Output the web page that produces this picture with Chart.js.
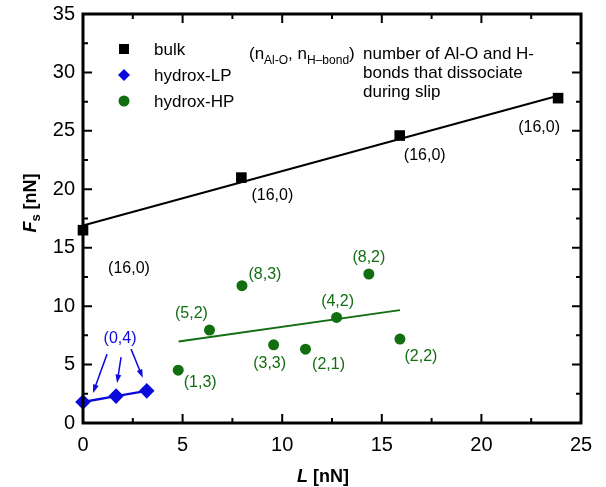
<!DOCTYPE html>
<html>
<head>
<meta charset="utf-8">
<script src="https://cdn.jsdelivr.net/npm/chart.js@4.4.0/dist/chart.umd.min.js"></script>
<style>
  html,body{margin:0;padding:0;background:#fff;}
  #wrap{width:606px;height:487px;}
</style>
</head>
<body>
<div id="wrap"><canvas id="chart" width="606" height="487"></canvas></div>
<script>
// data: L [nN] vs Fs [nN]
const bulkL = [0, 7.95, 15.9, 23.85];
const bulkF = [16.5, 21.0, 24.6, 27.8];
const bulkLabels = ['(16,0)', '(16,0)', '(16,0)', '(16,0)'];
const bulkFitL = [0, 23.85];
const bulkFitF = [16.9, 28.0];

const lpL = [0, 1.66, 3.2];
const lpF = [1.8, 2.3, 2.75];

const hpL = [4.78, 6.35, 7.98, 9.57, 11.17, 12.73, 14.35, 15.91];
const hpF = [4.52, 7.95, 11.75, 6.69, 6.32, 9.03, 12.75, 7.18];
const hpLabels = ['(1,3)', '(5,2)', '(8,3)', '(3,3)', '(2,1)', '(4,2)', '(8,2)', '(2,2)'];
const hpFitL = [4.8, 15.91];
const hpFitF = [6.97, 9.66];

const xTicks = [0, 5, 10, 15, 20, 25];
const yTicks = [0, 5, 10, 15, 20, 25, 30, 35];

// label placement (pixel offsets from the point), kept apart from the data
const bulkLabelOff = [[46,38],[31,18],[25,20],[-19,29]];
const hpLabelOff = [[22,12],[-18,-17],[23,-11],[-4,19],[23,15],[1,-16],[0,-16],[21,17]];

const BLUE = '#0a0adc';
const GREEN = '#116e11';
const FONT = "'Liberation Sans', Arial, Helvetica, sans-serif";

function pts(xs, ys){ return xs.map((x,i)=>({x, y: ys[i]})); }

const decorations = {
  id: 'decorations',
  afterDraw(chart){
    const {ctx, chartArea: a, scales: {x, y}} = chart;
    ctx.save();
    // frame
    ctx.strokeStyle = '#000';
    ctx.lineWidth = 3;
    ctx.strokeRect(a.left, a.top, a.right - a.left, a.bottom - a.top);
    // inward ticks, major every 5, minor every 2.5
    ctx.lineWidth = 2;
    ctx.beginPath();
    for(let v = 0; v <= 35; v += 2.5){
      const py = y.getPixelForValue(v);
      const len = v % 5 === 0 ? 9 : 5;
      ctx.moveTo(a.left, py); ctx.lineTo(a.left + len, py);
      ctx.moveTo(a.right, py); ctx.lineTo(a.right - len, py);
    }
    for(let v = 0; v <= 25; v += 2.5){
      const px = x.getPixelForValue(v);
      const len = v % 5 === 0 ? 9 : 5;
      ctx.moveTo(px, a.bottom); ctx.lineTo(px, a.bottom - len);
      ctx.moveTo(px, a.top); ctx.lineTo(px, a.top + len);
    }
    ctx.stroke();

    // point labels
    ctx.font = '16px ' + FONT;
    ctx.textAlign = 'center';
    ctx.textBaseline = 'middle';
    ctx.fillStyle = '#000';
    bulkL.forEach((l,i)=>{
      ctx.fillText(bulkLabels[i], x.getPixelForValue(l) + bulkLabelOff[i][0], y.getPixelForValue(bulkF[i]) + bulkLabelOff[i][1]);
    });
    ctx.fillStyle = GREEN;
    hpL.forEach((l,i)=>{
      ctx.fillText(hpLabels[i], x.getPixelForValue(l) + hpLabelOff[i][0], y.getPixelForValue(hpF[i]) + hpLabelOff[i][1]);
    });

    // (0,4) label with arrows to the LP points
    const lx = x.getPixelForValue(lpL[1]) + 4, ly = y.getPixelForValue(lpF[1]) - 58;
    ctx.fillStyle = BLUE;
    ctx.fillText('(0,4)', lx, ly);
    const starts = [[-13,16],[1,19],[11,11]];
    const ends = [[10,-9],[1,-13],[-4,-13]];
    ctx.strokeStyle = BLUE;
    ctx.lineWidth = 1.5;
    lpL.forEach((l,i)=>{
      const sx = lx + starts[i][0], sy = ly + starts[i][1];
      const ex = x.getPixelForValue(l) + ends[i][0], ey = y.getPixelForValue(lpF[i]) + ends[i][1];
      const ang = Math.atan2(ey - sy, ex - sx);
      ctx.beginPath(); ctx.moveTo(sx, sy); ctx.lineTo(ex - 6*Math.cos(ang), ey - 6*Math.sin(ang)); ctx.stroke();
      ctx.beginPath();
      ctx.moveTo(ex, ey);
      ctx.lineTo(ex - 9*Math.cos(ang - 0.33), ey - 9*Math.sin(ang - 0.33));
      ctx.lineTo(ex - 9*Math.cos(ang + 0.33), ey - 9*Math.sin(ang + 0.33));
      ctx.closePath(); ctx.fill();
    });

    // legend
    ctx.textAlign = 'left';
    ctx.font = '17px ' + FONT;
    const legX = 124, textX = 154;
    const rows = [[49, 'bulk', '#000'], [75, 'hydrox-LP', BLUE], [101, 'hydrox-HP', GREEN]];
    rows.forEach(([ry, txt, col], i)=>{
      ctx.fillStyle = col;
      ctx.beginPath();
      if(i === 0) ctx.rect(legX - 5, ry - 5, 10, 10);
      else if(i === 1){ ctx.moveTo(legX, ry - 6); ctx.lineTo(legX + 6, ry); ctx.lineTo(legX, ry + 6); ctx.lineTo(legX - 6, ry); ctx.closePath(); }
      else ctx.arc(legX, ry, 5.5, 0, Math.PI*2);
      ctx.fill();
      ctx.fillStyle = '#000';
      ctx.fillText(txt, textX, ry + 1);
    });

    // explanation note with subscripts
    ctx.textBaseline = 'alphabetic';
    ctx.fillStyle = '#000';
    let cx = 249;
    const base = 59;
    const parts = [['(n', 17, 0], ['Al-O', 12, 5], [', n', 17, 0], ['H\u2013bond', 12, 5], [')', 17, 0]];
    parts.forEach(([t, s, d])=>{
      ctx.font = s + 'px ' + FONT;
      ctx.fillText(t, cx, base + d);
      cx += ctx.measureText(t).width;
    });
    ctx.font = '17px ' + FONT;
    ctx.fillText('number of Al-O and H-', 363, 59);
    ctx.fillText('bonds that dissociate', 363, 78);
    ctx.fillText('during slip', 363, 97);

    // axis titles
    ctx.fillStyle = '#000';
    ctx.textAlign = 'left';
    ctx.font = 'italic bold 18px ' + FONT;
    let w1 = ctx.measureText('L').width;
    ctx.font = 'bold 18px ' + FONT;
    let w2 = ctx.measureText(' [nN]').width;
    let tx = 323 - (w1 + w2)/2;
    ctx.font = 'italic bold 18px ' + FONT;
    ctx.fillText('L', tx, 482);
    ctx.font = 'bold 18px ' + FONT;
    ctx.fillText(' [nN]', tx + w1, 482);

    ctx.translate(36, 203);
    ctx.rotate(-Math.PI/2);
    ctx.font = 'italic bold 18px ' + FONT;
    const fw = ctx.measureText('F').width;
    ctx.font = 'bold 13px ' + FONT;
    const sw = ctx.measureText('s').width;
    ctx.font = 'bold 18px ' + FONT;
    const rw = ctx.measureText(' [nN]').width;
    let ty = -(fw + sw + rw)/2;
    ctx.font = 'italic bold 18px ' + FONT;
    ctx.fillText('F', ty, 0);
    ctx.font = 'bold 13px ' + FONT;
    ctx.fillText('s', ty + fw, 4);
    ctx.font = 'bold 18px ' + FONT;
    ctx.fillText(' [nN]', ty + fw + sw, 0);
    ctx.restore();
  }
};

new Chart(document.getElementById('chart'), {
  type: 'scatter',
  data: {
    datasets: [
      { label: 'bulk', data: pts(bulkL, bulkF), pointStyle: 'rect', pointRadius: 7.5, backgroundColor: '#000', borderColor: '#000', borderWidth: 0, clip: false },
      { label: 'hydrox-LP', data: pts(lpL, lpF), showLine: true, pointStyle: 'rectRot', pointRadius: 6, backgroundColor: BLUE, borderColor: BLUE, borderWidth: 2.5, clip: false },
      { label: 'hydrox-HP', data: pts(hpL, hpF), pointStyle: 'circle', pointRadius: 5.5, backgroundColor: GREEN, borderColor: GREEN, borderWidth: 0, clip: false },
      { label: 'bulk fit', data: pts(bulkFitL, bulkFitF), showLine: true, pointRadius: 0, borderColor: '#000', borderWidth: 2, clip: false },
      { label: 'HP fit', data: pts(hpFitL, hpFitF), showLine: true, pointRadius: 0, borderColor: GREEN, borderWidth: 2, clip: false }
    ]
  },
  options: {
    responsive: false,
    animation: false,
    events: [],
    layout: { padding: { top: 14, right: 25, left: 0, bottom: 0 } },
    plugins: { legend: { display: false }, tooltip: { enabled: false } },
    scales: {
      x: {
        type: 'linear', min: 0, max: 25,
        afterBuildTicks: s => { s.ticks = xTicks.map(v => ({value: v})); },
        afterFit: s => { s.height = 64; s.paddingLeft = 0; s.paddingRight = 0; },
        grid: { display: false, drawTicks: false },
        border: { display: false },
        ticks: { padding: 10, color: '#000', font: { family: FONT, size: 20 } }
      },
      y: {
        type: 'linear', min: 0, max: 35,
        afterBuildTicks: s => { s.ticks = yTicks.map(v => ({value: v})); },
        afterFit: s => { s.width = 83; s.paddingTop = 0; s.paddingBottom = 0; },
        grid: { display: false, drawTicks: false },
        border: { display: false },
        ticks: { padding: 8, color: '#000', font: { family: FONT, size: 20 } }
      }
    }
  },
  plugins: [decorations]
});
</script>
</body>
</html>
